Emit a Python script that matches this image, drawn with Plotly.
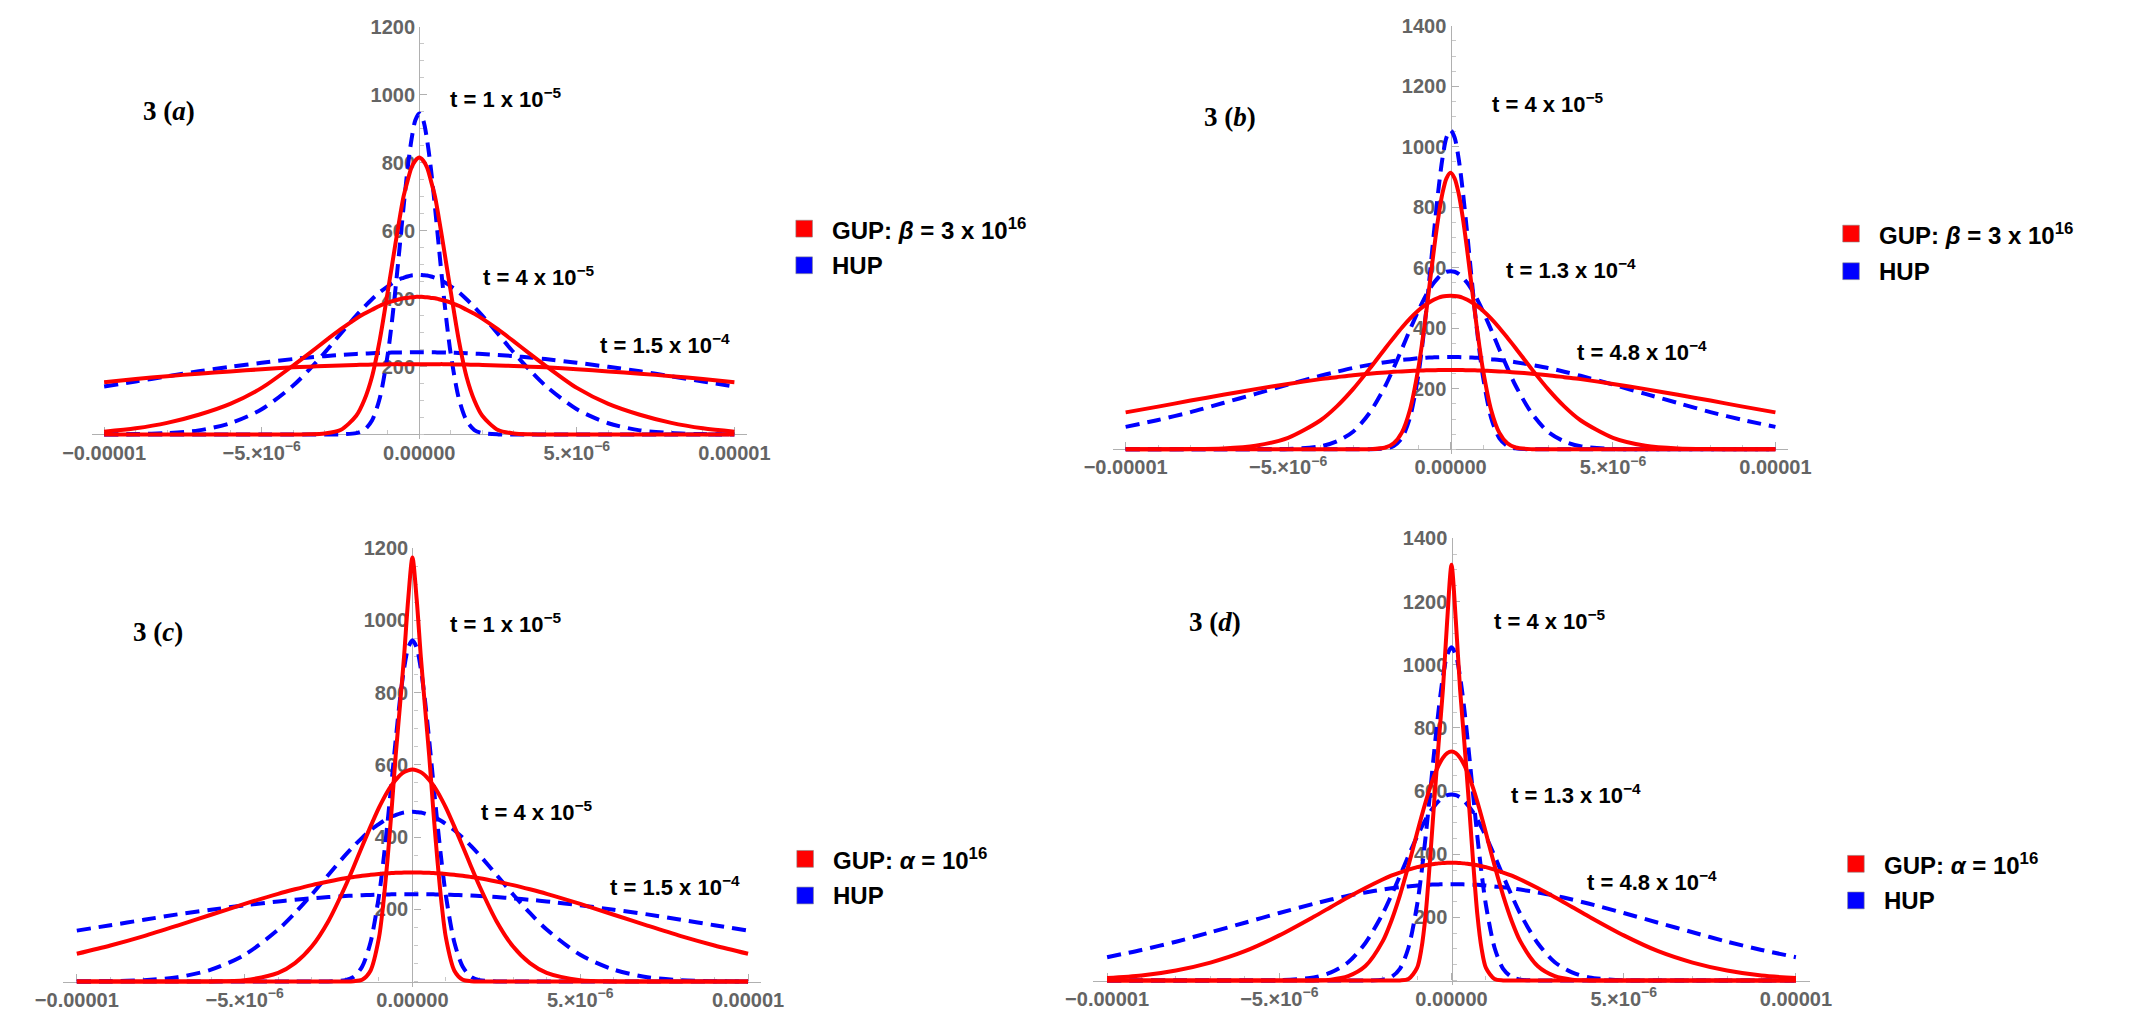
import plotly.graph_objects as go

W, H = 2136, 1034

# ---------------- data (x in units of 1e-6, positive half; curves are symmetric) ----------------
X_HALF = [0, 0.125, 0.25, 0.375, 0.5, 0.625, 0.75, 0.875, 1, 1.25, 1.5, 1.75, 2,
          2.5, 3, 3.5, 4, 5, 6, 7, 8, 9, 10]
X_UNIT = 1e-6

# Panel 3(a): GUP beta = 3e16, t = 1e-5, 4e-5, 1.5e-4
GUP_A_T1 = [815, 806, 785, 745, 700, 635, 565, 492, 420, 280, 170, 100, 55, 13, 3, 0.5, 0, 0, 0, 0, 0, 0, 0]
GUP_A_T2 = [405, 405, 404, 402, 401, 398, 395, 392, 388, 379, 367, 355, 341, 309, 274, 238, 203, 137, 90, 58, 34, 18, 8]
GUP_A_T3 = [207, 207, 207, 207, 207, 207, 207, 206.5, 206.4, 206, 205.6, 205.2, 204.6, 203, 201.6, 199.6, 197.5, 192, 185.5, 179, 171.5, 163, 154]
# HUP for panels (a) and (c)
HUP_AC_T1 = [945, 925, 866, 778, 668, 549, 433, 326, 236, 108, 41, 13, 4, 0.2, 0, 0, 0, 0, 0, 0, 0, 0, 0]
HUP_AC_T2 = [470, 469, 468, 465, 461, 457, 451, 444, 436, 419, 398, 375, 350, 296, 241, 190, 144, 74, 33, 12, 4, 1, 0.3]
HUP_AC_T3 = [242, 242, 242, 241.8, 241.7, 241.5, 241.3, 241, 240.7, 240, 239, 238, 237, 234, 230.5, 226.5, 222, 211, 199, 186, 171, 156, 141]

# Panel 3(b): GUP beta = 3e16, t = 4e-5, 1.3e-4, 4.8e-4
GUP_B_T1 = [914, 896, 846, 767, 669, 561, 452, 351, 262, 130, 55, 20, 6, 0.4, 0, 0, 0, 0, 0, 0, 0, 0, 0]
GUP_B_T2 = [508, 507, 505, 501, 495, 488, 479, 469, 458, 432, 402, 369, 335, 265, 199, 142, 96, 38, 12, 3, 0.7, 0.1, 0]
GUP_B_T3 = [262, 262, 262, 262, 261.5, 261, 261, 260.5, 260, 259, 257.5, 256, 254, 250, 245, 238.5, 232, 216, 199, 180, 161, 141, 122]
# HUP for panels (b) and (d)
HUP_BD_T1 = [1055, 1031, 961, 856, 728, 591, 457, 338, 239, 104, 37, 11, 3, 0.1, 0, 0, 0, 0, 0, 0, 0, 0, 0]
HUP_BD_T2 = [589, 587, 580, 568, 552, 533, 510, 484, 456, 395, 331, 269, 211, 119, 58, 26, 10, 1, 0.1, 0, 0, 0, 0]
HUP_BD_T3 = [305, 305, 305, 304.5, 304, 303.5, 303, 302, 301, 298, 295.5, 292, 288, 279, 269, 256.5, 243, 214, 183, 153, 123, 97, 74]

# Panel 3(c): GUP alpha = 1e16, t = 1e-5, 4e-5, 1.5e-4
GUP_C_T1 = [1174, 1060, 900, 760, 625, 470, 330, 210, 120, 30, 5, 1, 0, 0, 0, 0, 0, 0, 0, 0, 0, 0, 0]
GUP_C_T2 = [587, 585, 580, 571, 558, 543, 525, 504, 481, 429, 374, 318, 264, 168, 97, 51, 24, 4, 0.4, 0, 0, 0, 0]
GUP_C_T3 = [302, 302, 302, 301.4, 301, 300.4, 299.7, 299, 298, 295.6, 293, 289.6, 286, 277, 267, 255.5, 243, 215, 185, 155, 126, 100, 77]

# Panel 3(d): GUP alpha = 1e16, t = 4e-5, 1.3e-4, 4.8e-4
GUP_D_T1 = [1316, 1140, 920, 750, 570, 380, 210, 100, 40, 5, 0.5, 0, 0, 0, 0, 0, 0, 0, 0, 0, 0, 0, 0]
GUP_D_T2 = [725, 720, 705, 681, 649, 610, 566, 518, 467, 364, 269, 188, 124, 46, 14, 3, 0.6, 0, 0, 0, 0, 0, 0]
GUP_D_T3 = [373, 373, 372, 371, 369, 367, 365, 362, 359, 351, 342, 332, 320, 293, 264, 233, 202, 143, 93, 57, 32, 16, 8]

X_TICKVALS = [-1e-5, -5e-6, 0, 5e-6, 1e-5]
X_TICKTEXT = ["\u22120.00001", "\u22125.\u00d710<sup>\u22126</sup>", "0.00000",
              "5.\u00d710<sup>\u22126</sup>", "0.00001"]
Y_TICKS_A = [200, 400, 600, 800, 1000, 1200]
Y_TICKS_B = [200, 400, 600, 800, 1000, 1200, 1400]

PANEL_LABELS = ["a", "b", "c", "d"]
TIME_LABELS = [
    ["t = 1 x 10<sup>\u22125</sup>", "t = 4 x 10<sup>\u22125</sup>", "t = 1.5 x 10<sup>\u22124</sup>"],
    ["t = 4 x 10<sup>\u22125</sup>", "t = 1.3 x 10<sup>\u22124</sup>", "t = 4.8 x 10<sup>\u22124</sup>"],
    ["t = 1 x 10<sup>\u22125</sup>", "t = 4 x 10<sup>\u22125</sup>", "t = 1.5 x 10<sup>\u22124</sup>"],
    ["t = 4 x 10<sup>\u22125</sup>", "t = 1.3 x 10<sup>\u22124</sup>", "t = 4.8 x 10<sup>\u22124</sup>"],
]
LEGEND_GUP = ["GUP: <i>\u03b2</i> = 3 x 10<sup>16</sup>", "GUP: <i>\u03b2</i> = 3 x 10<sup>16</sup>",
              "GUP: <i>\u03b1</i> = 10<sup>16</sup>", "GUP: <i>\u03b1</i> = 10<sup>16</sup>"]
LEGEND_HUP = "HUP"

GUP_SETS = [[GUP_A_T1, GUP_A_T2, GUP_A_T3], [GUP_B_T1, GUP_B_T2, GUP_B_T3],
            [GUP_C_T1, GUP_C_T2, GUP_C_T3], [GUP_D_T1, GUP_D_T2, GUP_D_T3]]
HUP_SETS = [[HUP_AC_T1, HUP_AC_T2, HUP_AC_T3], [HUP_BD_T1, HUP_BD_T2, HUP_BD_T3],
            [HUP_AC_T1, HUP_AC_T2, HUP_AC_T3], [HUP_BD_T1, HUP_BD_T2, HUP_BD_T3]]

# ---------------- layout geometry (pixels) ----------------
GEOM = [
    dict(xc=400, half=323, y0=428, ytop=16, ymax=1200, yt=Y_TICKS_A),
    dict(xc=1457, half=333, y0=443, ytop=15, ymax=1400, yt=Y_TICKS_B),
    dict(xc=393, half=344, y0=981, ytop=543, ymax=1200, yt=Y_TICKS_A),
    dict(xc=1458, half=353, y0=980, ytop=533, ymax=1400, yt=Y_TICKS_B),
]
LABEL_POS = [(115, 101), (1202, 107), (105, 628), (1187, 618)]
TIME_POS = [
    [(429, 88), (463, 268), (583, 337)],
    [(1497, 93), (1512, 261), (1585, 344)],
    [(429, 619), (461, 809), (593, 884)],
    [(1500, 616), (1517, 791), (1595, 879)],
]
LEGEND_POS = [(786, 220, 257), (1859, 225, 263), (787, 857, 894), (1864, 862, 899)]

RED = "#ff0000"
BLUE = "#0000ff"
AXIS_COL = "#b0b0b0"
LINE_W = 4
TICK_FONT = dict(family="Liberation Sans, Arial, sans-serif", size=20, color="#646464", weight="bold")


def px(x):
    return x / W


def py(y):
    return 1 - y / H


def mirror(vals):
    return vals[:0:-1] + vals


xs = [-v * X_UNIT for v in X_HALF[:0:-1]] + [v * X_UNIT for v in X_HALF]

fig = go.Figure()
layout = dict(width=W, height=H, margin=dict(l=0, r=0, t=0, b=0),
              paper_bgcolor="white", plot_bgcolor="white", showlegend=False)
shapes = []
annotations = []

XR = 1.04e-5
for i, g in enumerate(GEOM):
    n = i + 1
    xs_key = "xaxis" if n == 1 else f"xaxis{n}"
    ys_key = "yaxis" if n == 1 else f"yaxis{n}"
    xref = "x" if n == 1 else f"x{n}"
    yref = "y" if n == 1 else f"y{n}"

    half_axis = g["half"] * XR / 1e-5
    x0p = g["xc"] - half_axis
    x1p = g["xc"] + half_axis
    unit_px = (g["y0"] - g["ytop"]) / g["ymax"]
    ymin = -14
    ybot = g["y0"] + (-ymin) * unit_px

    layout[xs_key] = dict(
        domain=[px(x0p), px(x1p)], range=[-XR, XR], anchor="free", position=py(g["y0"]),
        showline=True, linecolor=AXIS_COL, linewidth=1.4, zeroline=False, showgrid=False,
        tickmode="array", tickvals=X_TICKVALS, ticktext=X_TICKTEXT,
        ticks="inside", ticklen=7, tickwidth=1, tickcolor=AXIS_COL,
        minor=dict(dtick=1e-6, tick0=0, ticks="inside", ticklen=4, tickcolor="#c8c8c8", showgrid=False),
        tickfont=TICK_FONT, layer="below traces", fixedrange=True,
    )
    layout[ys_key] = dict(
        domain=[py(ybot), py(g["ytop"])], range=[ymin, g["ymax"]], anchor="free",
        position=px(g["xc"]),
        showline=True, linecolor=AXIS_COL, linewidth=1.4, zeroline=False, showgrid=False,
        tickmode="array", tickvals=g["yt"], ticks="inside", ticklen=7, tickwidth=1,
        tickcolor=AXIS_COL,
        minor=dict(dtick=50, tick0=0, ticks="inside", ticklen=4, tickcolor="#c8c8c8", showgrid=False),
        tickfont=TICK_FONT, layer="below traces", fixedrange=True,
    )

    for k in range(3):
        fig.add_trace(go.Scatter(
            x=xs, y=mirror(HUP_SETS[i][k]), mode="lines", xaxis=xref, yaxis=yref,
            line=dict(color=BLUE, width=LINE_W, dash="14px,8px", shape="spline", smoothing=0.8),
            hoverinfo="skip"))
    for k in range(3):
        fig.add_trace(go.Scatter(
            x=xs, y=mirror(GUP_SETS[i][k]), mode="lines", xaxis=xref, yaxis=yref,
            line=dict(color=RED, width=LINE_W, shape="spline", smoothing=0.8),
            hoverinfo="skip"))

    lx, ly = LABEL_POS[i]
    annotations.append(dict(
        x=px(lx), y=py(ly), xref="paper", yref="paper", xanchor="left", yanchor="middle",
        showarrow=False, text=f"<b>3 (<i>{PANEL_LABELS[i]}</i>)</b>",
        font=dict(family="Liberation Serif, Times New Roman, serif", size=27, color="black")))
    for k in range(3):
        tx, ty = TIME_POS[i][k]
        annotations.append(dict(
            x=px(tx), y=py(ty), xref="paper", yref="paper", xanchor="left", yanchor="middle",
            showarrow=False, text=f"<b>{TIME_LABELS[i][k]}</b>",
            font=dict(family="Liberation Sans, Arial, sans-serif", size=22, color="black")))
    sx, r1, r2 = LEGEND_POS[i]
    for (yc, col, txt) in [(r1, RED, LEGEND_GUP[i]), (r2, BLUE, LEGEND_HUP)]:
        shapes.append(dict(type="rect", xref="paper", yref="paper",
                           x0=px(sx), x1=px(sx + 17), y0=py(yc + 8.5), y1=py(yc - 8.5),
                           fillcolor=col, line=dict(color="#888888", width=0.6)))
        annotations.append(dict(
            x=px(sx + 35), y=py(yc), xref="paper", yref="paper", xanchor="left", yanchor="middle",
            showarrow=False, text=f"<b>{txt}</b>",
            font=dict(family="Liberation Sans, Arial, sans-serif", size=24, color="black")))

layout["shapes"] = shapes
layout["annotations"] = annotations
fig.update_layout(**layout)
fig.write_html("out.html")
